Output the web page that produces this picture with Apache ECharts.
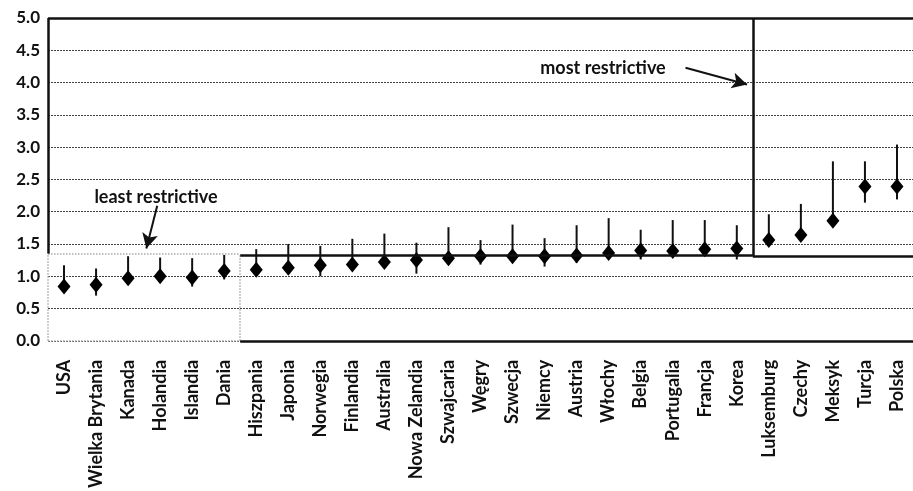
<!DOCTYPE html>
<html>
<head>
<meta charset="utf-8">
<script src="https://cdn.jsdelivr.net/npm/echarts@6/dist/echarts.min.js"></script>
<style>html,body{margin:0;padding:0;background:#fff}#c{width:913px;height:491px}</style>
</head>
<body>
<div id="c"></div>
<script>
const categories = ['USA','Wielka Brytania','Kanada','Holandia','Islandia','Dania','Hiszpania','Japonia','Norwegia','Finlandia','Australia','Nowa Zelandia','Szwajcaria','Węgry','Szwecja','Niemcy','Austria','Włochy','Belgia','Portugalia','Francja','Korea','Luksemburg','Czechy','Meksyk','Turcja','Polska'];
const estimate = [0.84,0.87,0.97,1.00,0.98,1.08,1.10,1.13,1.17,1.18,1.22,1.25,1.28,1.31,1.31,1.31,1.32,1.36,1.40,1.39,1.42,1.43,1.56,1.64,1.86,2.39,2.39];
const low      = [0.80,0.70,0.95,0.98,0.84,0.95,1.05,1.10,1.00,1.10,1.20,1.04,1.24,1.18,1.28,1.15,1.21,1.33,1.26,1.36,1.38,1.26,1.55,1.60,1.84,2.14,2.19];
const high     = [1.17,1.12,1.31,1.29,1.28,1.33,1.42,1.50,1.47,1.58,1.66,1.52,1.76,1.56,1.80,1.59,1.79,1.90,1.72,1.87,1.87,1.79,1.96,2.12,2.78,2.78,3.04];
const yMin = 0, yMax = 5, yStep = 0.5;

const FONT = 'Lato';
const chart = echarts.init(document.getElementById('c'), null, {renderer: 'canvas'});

const black = {color: '#111', width: 2.5, type: 'solid', opacity: 1};
const grey = {color: '#aaa', width: 1.5, type: 'dotted', opacity: 1};
const arrowStyle = {color: '#111', width: 2, type: 'solid', opacity: 1};
function seg(a, b, style) {
  return [{coord: a, lineStyle: style, symbol: 'none'}, {coord: b, symbol: 'none'}];
}

chart.setOption({
  animation: false,
  backgroundColor: '#fff',
  grid: {left: 48, top: 18, width: 871, height: 325},
  xAxis: [{
    type: 'category',
    data: categories,
    boundaryGap: true,
    axisLine: {show: false},
    axisTick: {show: false},
    axisLabel: {rotate: 90, margin: 19, fontFamily: FONT, fontSize: 18, fontWeight: 'bold', color: '#111', interval: 0}
  }, {
    type: 'value', min: 0, max: categories.length, show: false
  }],
  yAxis: {
    type: 'value', min: yMin, max: yMax, interval: yStep,
    axisLine: {show: false}, axisTick: {show: false},
    axisLabel: {formatter: v => v.toFixed(1), fontFamily: FONT, fontSize: 17, fontWeight: 'bold', color: '#111', margin: 8},
    splitLine: {show: true, lineStyle: {color: '#444', width: 1, type: [2, 1]}}
  },
  series: [{
    type: 'custom',
    name: 'range',
    xAxisIndex: 0,
    data: categories.map((c, i) => [i, low[i], high[i]]),
    renderItem: function (params, api) {
      const p1 = api.coord([api.value(0), api.value(1)]);
      const p2 = api.coord([api.value(0), api.value(2)]);
      return {type: 'line', shape: {x1: p1[0], y1: p1[1], x2: p2[0], y2: p2[1]}, style: {stroke: '#111', lineWidth: 2}};
    },
    z: 3
  }, {
    type: 'scatter',
    name: 'estimate',
    xAxisIndex: 0,
    data: estimate,
    symbol: 'diamond',
    symbolSize: [13, 16],
    itemStyle: {color: '#000', opacity: 1},
    z: 4
  }, {
    type: 'line',
    xAxisIndex: 1,
    data: [],
    silent: true,
    markLine: {
      silent: true,
      animation: false,
      label: {show: false},
      symbol: 'none',
      lineStyle: {type: 'solid', opacity: 1},
      data: [
        seg([0, 0], [6, 0], grey),
        seg([0, 1.35], [6, 1.35], grey),
        seg([6, 0], [6, 1.35], grey),
        seg([0, 0], [0, 1.35], grey),
        seg([0, 1.35], [0, 5], black),
        seg([0, 5], [27, 5], black),
        seg([6, 0], [27, 0], black),
        seg([6, 1.33], [22, 1.33], black),
        seg([22, 1.31], [22, 5], black),
        seg([22, 1.31], [27, 1.31], black),
        [{coord: [3.41, 2.09], lineStyle: arrowStyle, symbol: 'none'}, {coord: [3.07, 1.43], symbol: 'arrow', symbolSize: [12, 15]}],
        [{coord: [19.9, 4.23], lineStyle: arrowStyle, symbol: 'none'}, {coord: [21.82, 3.97], symbol: 'arrow', symbolSize: [12, 15]}]
      ]
    },
    z: 5
  }],
  graphic: [
    {type: 'text', x: 156, y: 197, style: {text: 'least restrictive', font: 'bold 18px ' + FONT, fill: '#111', align: 'center', verticalAlign: 'middle'}},
    {type: 'text', x: 603, y: 68, style: {text: 'most restrictive', font: 'bold 18px ' + FONT, fill: '#111', align: 'center', verticalAlign: 'middle'}}
  ]
});
</script>
</body>
</html>
